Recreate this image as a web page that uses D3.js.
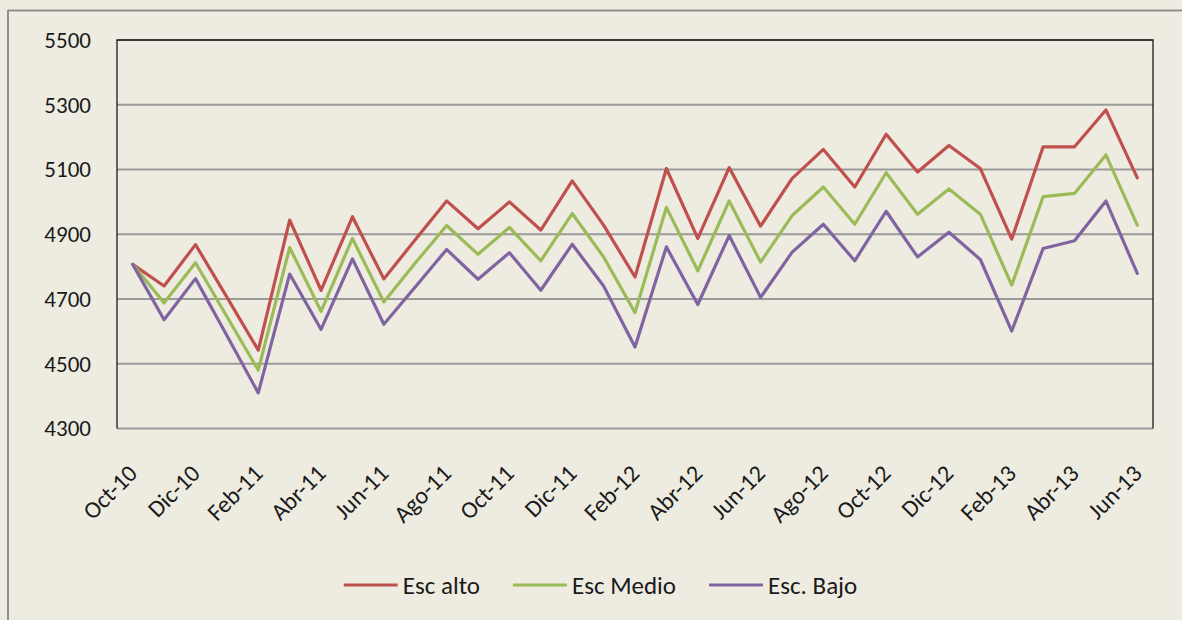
<!DOCTYPE html>
<html>
<head>
<meta charset="utf-8">
<script src="https://cdn.jsdelivr.net/npm/d3@7/dist/d3.min.js"></script>
<style>
  html, body { margin: 0; padding: 0; background: #EEECE1; }
  svg { display: block; }
  text { font-family: Carlito, Calibri, Lato, sans-serif; fill: #1a1a1a; }
</style>
</head>
<body>
<svg id="chart" width="1182" height="620"></svg>
<script>
const months = ["Oct-10","Nov-10","Dic-10","Ene-11","Feb-11","Mar-11","Abr-11","May-11","Jun-11","Jul-11","Ago-11","Sep-11",
  "Oct-11","Nov-11","Dic-11","Ene-12","Feb-12","Mar-12","Abr-12","May-12","Jun-12","Jul-12","Ago-12","Sep-12",
  "Oct-12","Nov-12","Dic-12","Ene-13","Feb-13","Mar-13","Abr-13","May-13","Jun-13"];
const escAlto = [4807,4740,4868,4706,4542,4944,4727,4954,4762,4883,5003,4917,5000,4913,5065,4928,4768,5103,4887,5106,4925,5072,5162,5046,5209,5092,5174,5103,4885,5170,5170,5284,5074];
const escMedio = [4807,4688,4812,4646,4480,4859,4662,4887,4691,4811,4927,4838,4921,4818,4964,4830,4658,4983,4787,5003,4814,4957,5046,4931,5090,4962,5040,4962,4743,5016,5026,5145,4928];
const escBajo = [4807,4636,4763,4587,4410,4777,4606,4824,4622,4737,4853,4761,4843,4727,4869,4740,4552,4861,4683,4896,4705,4844,4931,4818,4971,4830,4906,4822,4601,4856,4880,5003,4779];
const yTicks = [4300,4500,4700,4900,5100,5300,5500];
const seriesNames = ["Esc alto","Esc Medio","Esc. Bajo"];
const seriesColors = ["#C0504D","#9BBB59","#8064A2"];

const series = [escAlto, escMedio, escBajo].map((v,i)=>({name:seriesNames[i], color:seriesColors[i], values:v}));

const svg = d3.select("#chart");
const plot = {left:117, right:1153, top:40, bottom:428.5};

// outer frame (left and top only visible)
svg.append("line").attr("x1",8).attr("x2",1182).attr("y1",10.5).attr("y2",10.5).attr("stroke","#8f8f8f").attr("stroke-width",2);
svg.append("line").attr("x1",8).attr("x2",8).attr("y1",10).attr("y2",620).attr("stroke","#8f8f8f").attr("stroke-width",2);

const x = d3.scalePoint().domain(months).range([plot.left, plot.right]).padding(0.5);
const y = d3.scaleLinear().domain([4300,5500]).range([plot.bottom, plot.top]);

// gridlines
svg.append("g").selectAll("line").data(yTicks).join("line")
  .attr("x1",plot.left).attr("x2",plot.right)
  .attr("y1",d=>y(d)).attr("y2",d=>y(d))
  .attr("stroke","#9a9a9a").attr("stroke-width",2);

// plot border
svg.append("path")
  .attr("d",`M${plot.left},${plot.bottom}V${plot.top}H${plot.right}V${plot.bottom}`)
  .attr("fill","none").attr("stroke","#1a1a1a").attr("stroke-width",1.3);

// y axis labels
const yAxis = d3.axisLeft(y).tickValues(yTicks).tickSize(0).tickPadding(26).tickFormat(d3.format("d"));
const gy = svg.append("g").attr("transform",`translate(${plot.left},0)`).call(yAxis);
gy.select(".domain").remove();
gy.selectAll("text").style("font-size","23px").attr("fill","#1a1a1a")
  .style("font-family","Carlito, Calibri, Lato, sans-serif");

// x axis labels
const labelMonths = months.filter((m,i)=>i%2===0);
svg.append("g").selectAll("text").data(labelMonths).join("text")
  .attr("transform",d=>`translate(${x(d)},469) rotate(-45)`)
  .attr("text-anchor","end").attr("dy","0.35em")
  .style("font-size","24px")
  .text(d=>d);

// lines
const line = d3.line().x((d,i)=>x(months[i])).y(d=>y(d));
svg.append("g").selectAll("path").data(series).join("path")
  .attr("d",d=>line(d.values))
  .attr("fill","none").attr("stroke",d=>d.color).attr("stroke-width",3.2)
  .attr("stroke-linejoin","round").attr("stroke-linecap","round");

// legend
const lg = svg.append("g");
const items = lg.selectAll("g").data(series).join("g");
items.append("line").attr("x1",0).attr("x2",54).attr("y1",0).attr("y2",0)
  .attr("stroke",d=>d.color).attr("stroke-width",3.2);
items.append("text").attr("x",59).attr("dy","0.35em").style("font-size","25px").text(d=>d.name);
let widths = [];
items.each(function(){ widths.push(this.getBBox().width); });
const gap = 33;
const total = d3.sum(widths) + gap*(widths.length-1);
let cx = 600.5 - total/2;
items.attr("transform",(d,i)=>{ const t = `translate(${cx},585)`; cx += widths[i]+gap; return t; });
</script>
</body>
</html>
